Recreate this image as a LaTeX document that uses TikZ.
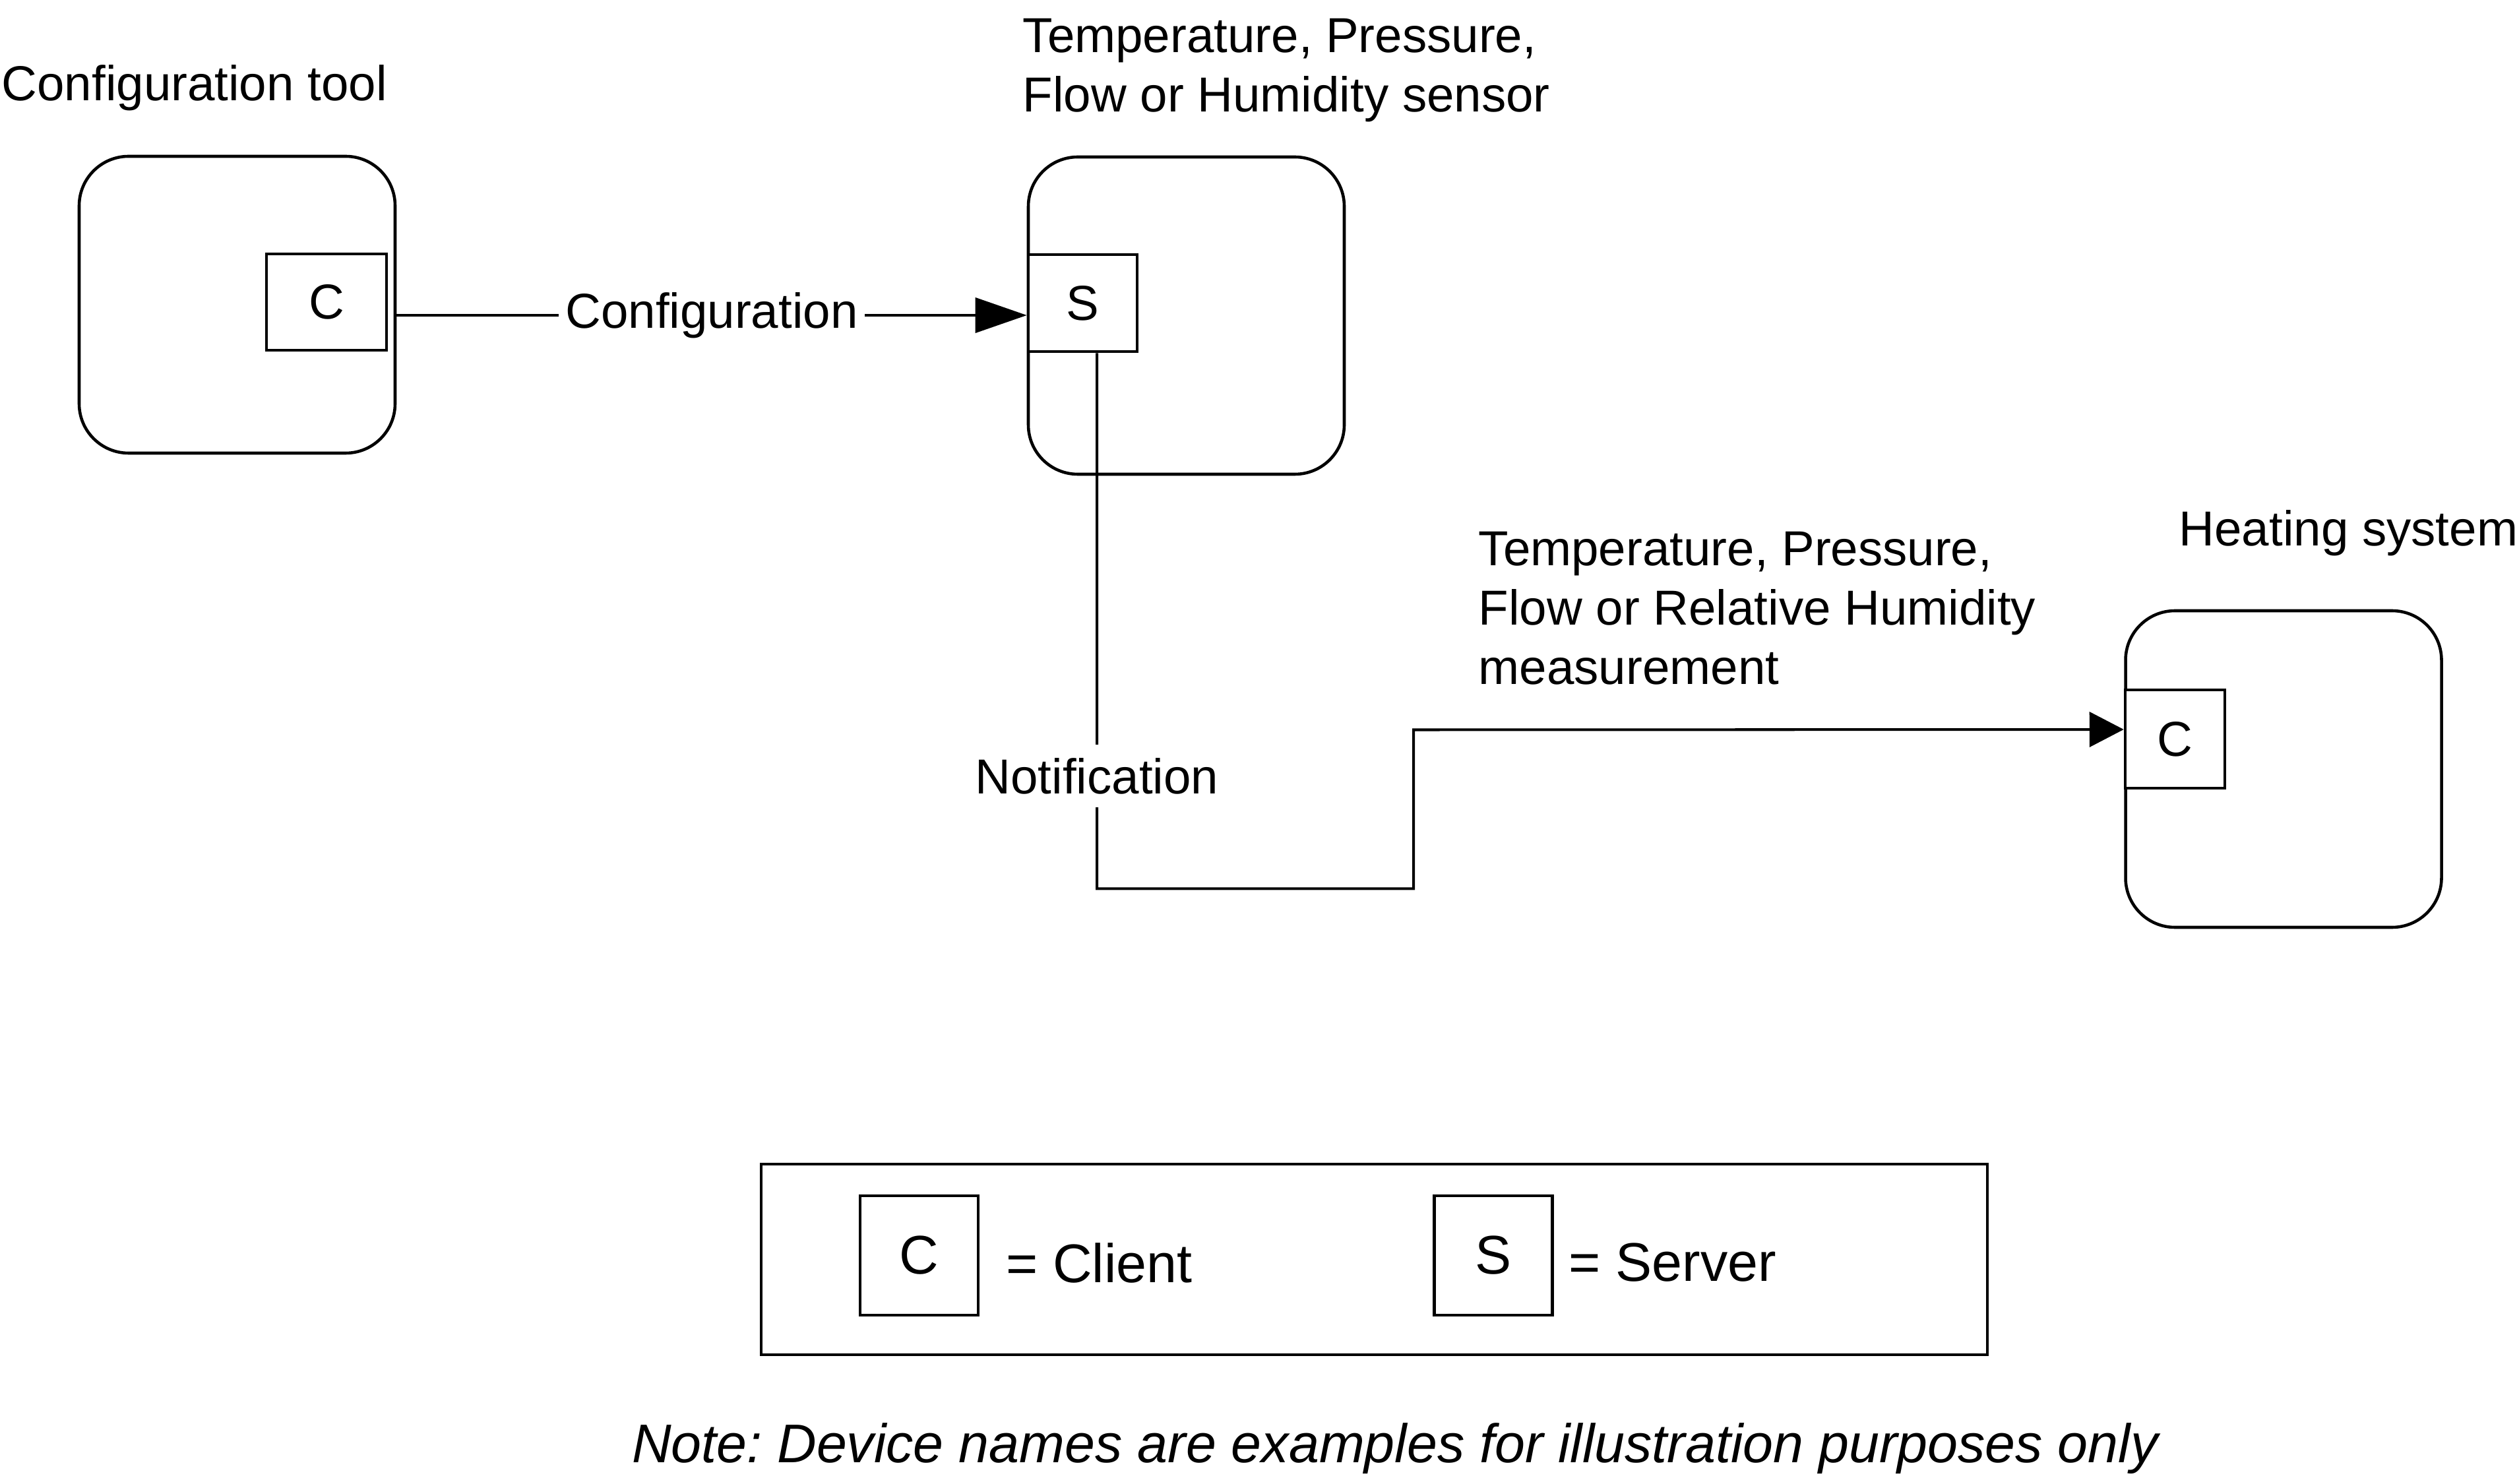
\documentclass[tikz,border=0pt]{standalone}
\usepackage{fontspec}
\setmainfont{Liberation Sans}
\frenchspacing
\usetikzlibrary{
  positioning,
  arrows.meta
}
\tikzset{
  >={Triangle[length=5.2mm, width=5.3mm]},
  every node/.style={font=\fontsize{21.2}{25.5}\selectfont, inner sep=0pt},
  device/.style={draw, line width=1.3pt, rounded corners=7.5mm},
  port/.style={draw, line width=1.3pt, fill=white},
  link/.style={line width=1.15pt},
  msg/.style={fill=white, inner xsep=1mm, inner ysep=2mm},
  caption/.style={align=left, anchor=north west},
  big/.style={font=\fontsize{23.5}{28}\selectfont}
}

\begin{document}
\begin{tikzpicture}
    \useasboundingbox (0,0) rectangle (38.19,-22.5);
    % devices
    \node[device, minimum width=4.79cm, minimum height=4.50cm] (cfg) at (3.595,-4.62) {};
    \node[device, minimum width=4.79cm, minimum height=4.81cm] (sens) at (17.985,-4.785) {};
    \node[device, minimum width=4.79cm, minimum height=4.80cm] (heat) at (34.62,-11.66) {};
    \node[port, minimum width=1.82cm, minimum height=1.46cm] (cfgC) at (4.95,-4.58) {C};
    \node[port, minimum width=1.65cm, minimum height=1.47cm] (sensS) at (16.415,-4.595) {S};
    \node[port, minimum width=1.51cm, minimum height=1.49cm] (heatC) at (32.975,-11.205) {C};
    % device names
    \node[anchor=base west] (cfgname) at (0.02,-1.53) {Configuration tool};
    \node[caption] (sensname) at (15.50,-0.28) {Temperature, Pressure,\\Flow or Humidity sensor};
    \node[anchor=base west] (heatname) at (33.03,-8.28) {Heating system};
    \node[caption] (measname) at (22.41,-8.06) {Temperature, Pressure,\\Flow or Relative Humidity\\measurement};
    % messages
    \draw[link, -{Triangle[length=7.8mm, width=5.3mm]}] ([yshift=-1.6mm]cfg.east)
      -- node[msg] {Configuration} ([yshift=-1.6mm]cfg.east -| sensS.west);
    \draw[link, ->] ([xshift=2.15mm]sensS.south)
      -- node[msg, pos=.79] {Notification} ++(0,-8.12)
      -| (21.43,-11.065) -- ([yshift=1.45mm]heatC.west);
    % legend
    \node[draw, line width=1.3pt, minimum width=18.59cm, minimum height=2.89cm] (legend) at (20.835,-19.095) {};
    \node[port, big, minimum width=1.79cm, minimum height=1.81cm] (legC) at (13.935,-19.035) {C};
    \node[port, big, minimum width=1.79cm, minimum height=1.81cm] (legS) at (22.64,-19.035) {S};
    \node[big, right=3.9mm of legC, yshift=-1.1mm] (legCtext) {= Client};
    \node[big, right=2.2mm of legS, yshift=-1.1mm] (legStext) {= Server};
    \node[anchor=base, font=\fontsize{23.5}{28}\selectfont\itshape] (note) at (21.15,-22.17)
      {Note: Device names are examples for illustration purposes only};
\end{tikzpicture}
\end{document}
